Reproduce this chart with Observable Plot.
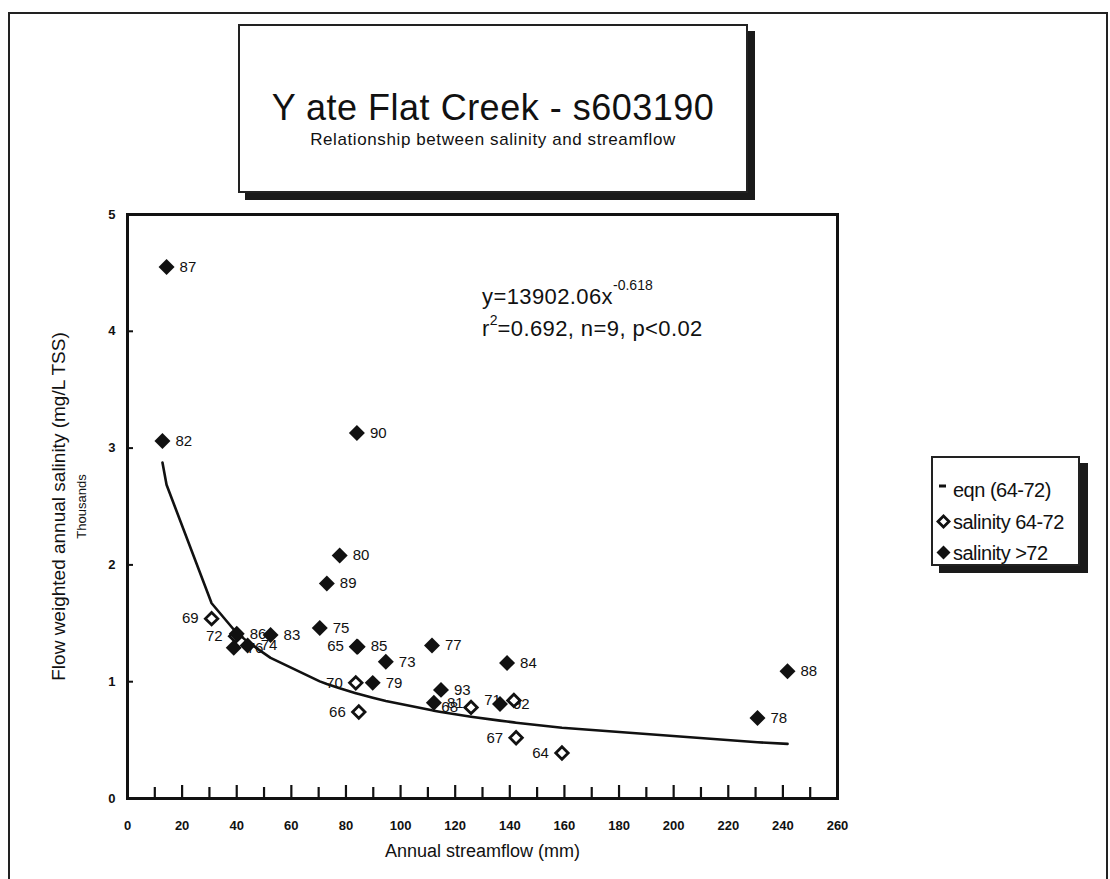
<!DOCTYPE html>
<html>
<head>
<meta charset="utf-8">
<script src="https://cdn.jsdelivr.net/npm/d3@7"></script>
<script src="https://cdn.jsdelivr.net/npm/@observablehq/plot@0.6"></script>
<style>
  body { margin: 0; background: #fff; font-family: "Liberation Sans", Arial, sans-serif; color: #111; }
  #page { position: relative; width: 1110px; height: 879px; overflow: hidden; }
  #sheet { position: absolute; left: 8px; top: 12px; width: 1100px; height: 900px;
           border: 2px solid #222; border-bottom: none; box-sizing: border-box; }
  #chart { position: absolute; left: 0; top: 0; }
  .box { position: absolute; background: #fff; border: 2px solid #222; box-sizing: border-box; }
  #titlebox { left: 238px; top: 24px; width: 510px; height: 169px; box-shadow: 7px 7px 0 #1a1a1a; }
  #title { position: absolute; left: 0; width: 100%; top: 64px; text-align: center;
           font-size: 36px; line-height: 36px; letter-spacing: 0.5px; white-space: nowrap; }
  #subtitle { position: absolute; left: 0; width: 100%; top: 105px; text-align: center;
              font-size: 17px; line-height: 17px; letter-spacing: 0.6px; white-space: nowrap; }
  .eq { position: absolute; font-size: 22px; line-height: 22px; white-space: nowrap; letter-spacing: 0.4px; }
  .eq sup { font-size: 14px; line-height: 14px; position: relative; vertical-align: top; letter-spacing: 0; }
  #legend { left: 931px; top: 456px; width: 149px; height: 110px; box-shadow: 8px 7px 0 #1a1a1a; }
  .lg { position: absolute; left: 0; font-size: 20px; line-height: 20px; white-space: nowrap; letter-spacing: -0.5px; }
  .lg svg { position: absolute; left: 3px; top: 2px; }
  .lg span { position: absolute; left: 20px; top: 0; }
</style>
</head>
<body>
<div id="page">
  <div id="sheet"></div>
  <div id="chart"></div>
  <div id="titlebox" class="box">
    <div id="title">Y ate Flat Creek - s603190</div>
    <div id="subtitle">Relationship between salinity and streamflow</div>
  </div>
  <div class="eq" style="left:482px; top:286px;">y=13902.06x<sup style="top:-8px">-0.618</sup></div>
  <div class="eq" style="left:482px; top:318px;">r<sup style="top:-5px">2</sup>=0.692, n=9, p&lt;0.02</div>
  <div id="legend" class="box">
    <div class="lg" style="top:22px;"><svg width="16" height="16"><line x1="3" x2="10" y1="4" y2="4" stroke="#111" stroke-width="3"/></svg><span>eqn (64-72)</span></div>
    <div class="lg" style="top:54px;"><svg width="16" height="16"><path d="M7.5,2L13,7.5L7.5,13L2,7.5Z" fill="#fff" stroke="#111" stroke-width="2.8"/></svg><span>salinity 64-72</span></div>
    <div class="lg" style="top:85px;"><svg width="16" height="16"><path d="M7.5,0.5L14.5,7.5L7.5,14.5L0.5,7.5Z" fill="#111"/></svg><span>salinity &gt;72</span></div>
  </div>
</div>
<script>
// Water years 1964-1972 (calibration period of the fitted curve)
const years6472 = ["64", "65", "66", "67", "68", "69", "70", "71", "72"];
const flow6472 = [159.1, 84.0, 84.7, 142.3, 125.8, 30.8, 83.6, 141.5, 39.6];       // mm
const salinity6472 = [0.39, 1.30, 0.74, 0.52, 0.78, 1.54, 0.99, 0.84, 1.39];       // thousand mg/L TSS

// Water years after 1972
const yearsAfter72 = ["73", "74", "75", "76", "77", "78", "79", "80", "81", "82",
                      "83", "84", "85", "86", "87", "88", "89", "90", "92", "93"];
const flowAfter72 = [94.6, 44.0, 70.4, 38.9, 111.5, 230.7, 89.8, 77.7, 112.2, 12.8,
                     52.4, 139.0, 84.3, 40.0, 14.3, 241.7, 73.0, 84.0, 136.4, 114.8];
const salinityAfter72 = [1.17, 1.31, 1.46, 1.29, 1.31, 0.69, 0.99, 2.08, 0.82, 3.06,
                         1.40, 1.16, 1.30, 1.41, 4.55, 1.09, 1.84, 3.13, 0.81, 0.93];

// Fitted power curve y = a·x^b (mg/L), plotted in thousands
const fitA = 13902.06;
const fitB = -0.618;

// Axis tick values
const xTickLabels = d3.range(0, 261, 20);
const xMajorTicks = d3.range(20, 241, 20);
const xMinorTicks = d3.range(10, 251, 20);
const yTicks = [0, 1, 2, 3, 4, 5];

const early = years6472.map((year, i) => ({year, flow: flow6472[i], salinity: salinity6472[i]}));
const late = yearsAfter72.map((year, i) => ({year, flow: flowAfter72[i], salinity: salinityAfter72[i]}));

// The fitted curve is evaluated at each observed streamflow
const fitFlows = Array.from(new Set([...flow6472, ...flowAfter72])).sort((a, b) => a - b);
const fit = fitFlows.map(flow => ({flow, salinity: fitA * Math.pow(flow, fitB) / 1000}));

const font = "Liberation Sans, Arial, sans-serif";

const chart = Plot.plot({
  width: 1110,
  height: 879,
  marginLeft: 127,
  marginRight: 273,
  marginTop: 214,
  marginBottom: 81,
  style: {fontFamily: font, background: "transparent", color: "#111"},
  x: {domain: [0, 260]},
  y: {domain: [0, 5]},
  marks: [
    // inward ticks along the bottom and left edges
    Plot.tickX(xMajorTicks, {x: d => d, insetTop: 571, stroke: "#111", strokeWidth: 2.2}),
    Plot.tickX(xMinorTicks, {x: d => d, insetTop: 573, stroke: "#111", strokeWidth: 2.2}),
    Plot.tickY(yTicks.slice(1, -1), {y: d => d, insetRight: 704, stroke: "#111", strokeWidth: 2}),
    Plot.axisX(xTickLabels, {tickSize: 0, tickPadding: 22, fontSize: 13, fontWeight: "bold", label: null}),
    Plot.axisY(yTicks, {tickSize: 0, tickPadding: 12, fontSize: 13, fontWeight: "bold", tickFormat: "d", label: null}),
    Plot.text(["Annual streamflow (mm)"], {text: d => d, frameAnchor: "bottom", dy: 58, fontSize: 18, letterSpacing: 0.4}),
    Plot.text(["Flow weighted annual salinity (mg/L TSS)"], {text: d => d, frameAnchor: "left", textAnchor: "middle", rotate: -90, dx: -69, fontSize: 19, letterSpacing: 1}),
    Plot.text(["Thousands"], {text: d => d, frameAnchor: "left", textAnchor: "middle", rotate: -90, dx: -46, fontSize: 13}),
    Plot.frame({stroke: "#111", strokeWidth: 3}),
    // fitted curve
    Plot.line(fit, {x: "flow", y: "salinity", stroke: "#111", strokeWidth: 2.6}),
    // year labels: early years to the left, later years to the right
    Plot.text(early, {x: "flow", y: "salinity", text: "year", textAnchor: "end", dx: -13, fontSize: 15, fill: "#111"}),
    Plot.text(late, {x: "flow", y: "salinity", text: "year", textAnchor: "start", dx: 13, fontSize: 15, fill: "#111"}),
    Plot.dot(early, {x: "flow", y: "salinity", symbol: "diamond2", r: 5.6, fill: "#fff", stroke: "#111", strokeWidth: 2.8}),
    Plot.dot(late, {x: "flow", y: "salinity", symbol: "diamond2", r: 7.2, fill: "#111", stroke: "none"})
  ]
});
document.getElementById("chart").appendChild(chart);
</script>
</body>
</html>
